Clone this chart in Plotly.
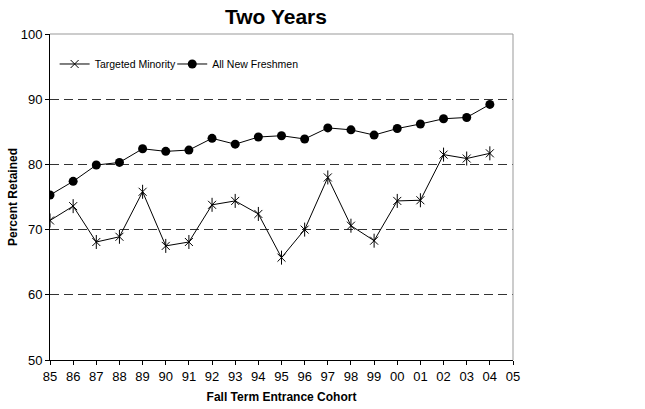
import plotly.graph_objects as go

years = ["85","86","87","88","89","90","91","92","93","94","95","96","97","98","99","00","01","02","03","04","05"]
minority = [71.4,73.6,68.1,68.9,75.8,67.5,68.1,73.8,74.4,72.4,65.7,70.0,78.0,70.6,68.3,74.4,74.5,81.5,80.9,81.7]
freshmen = [75.3,77.4,79.9,80.3,82.4,82.0,82.2,84.0,83.1,84.2,84.4,83.9,85.6,85.3,84.5,85.5,86.2,87.0,87.2,89.2]
yticks = [50,60,70,80,90,100]

xpos = list(range(len(years)))
xm = xpos[:len(minority)]
xf = xpos[:len(freshmen)]

FONT = "Liberation Sans, Arial, sans-serif"

fig = go.Figure()
fig.add_trace(go.Scatter(x=xm, y=minority, mode="lines+markers", name="Targeted Minority",
                         line=dict(color="black", width=1), legend="legend",
                         marker=dict(symbol="x-thin-open", size=8, color="black",
                                     line=dict(color="black", width=1))))
fig.add_trace(go.Scatter(x=xm, y=minority, mode="markers", showlegend=False, hoverinfo="skip",
                         marker=dict(symbol="line-ns-open", size=10, color="black",
                                     line=dict(color="black", width=1))))
fig.add_trace(go.Scatter(x=xf, y=freshmen, mode="lines+markers", name="All New Freshmen",
                         line=dict(color="black", width=1), legend="legend2",
                         marker=dict(symbol="circle", size=9, color="black")))

leg_common = dict(orientation="h", xanchor="left", y=0.908, yanchor="middle",
                  bgcolor="rgba(0,0,0,0)", font=dict(size=10.5, family=FONT),
                  itemwidth=30, tracegroupgap=0)

fig.update_layout(
    width=645, height=409,
    margin=dict(l=50, r=132, t=34, b=49, autoexpand=False),
    paper_bgcolor="white", plot_bgcolor="white",
    font=dict(family=FONT, size=13, color="black"),
    title=dict(text="<b>Two Years</b>", x=276/645, xanchor="center",
               y=1-17/409, yanchor="middle", pad=dict(t=0, b=0, l=0, r=0),
               font=dict(size=21, family=FONT)),
    showlegend=True,
    legend=dict(x=0.01, **leg_common),
    legend2=dict(x=0.264, **leg_common),
    shapes=[
        dict(type="line", xref="paper", yref="paper", x0=0, x1=1, y0=1, y1=1,
             line=dict(color="#999999", width=1)),
        dict(type="line", xref="paper", yref="paper", x0=1, x1=1, y0=0, y1=1,
             line=dict(color="#999999", width=1)),
    ],
)

fig.update_xaxes(range=[0, len(years)-1], tickmode="array", tickvals=xpos, ticktext=years,
                 showline=True, linecolor="black", linewidth=1, ticks="outside",
                 ticklen=4, tickcolor="black", showgrid=False, zeroline=False,
                 tickfont=dict(size=13), automargin=False,
                 title=dict(text="<b>Fall Term Entrance Cohort</b>", font=dict(size=12), standoff=10))
fig.update_yaxes(range=[50, 100], tickmode="array", tickvals=yticks,
                 showline=True, linecolor="black", linewidth=1, ticks="outside",
                 ticklen=4, tickcolor="black", showgrid=True, gridcolor="#333333",
                 griddash="9px,5px", gridwidth=1, zeroline=False, tickfont=dict(size=13),
                 automargin=False,
                 title=dict(text="<b>Percent Retained</b>", font=dict(size=12), standoff=0))

fig.write_html("out.html", config={"displayModeBar": False},
               post_script="document.body.style.margin='0';")
